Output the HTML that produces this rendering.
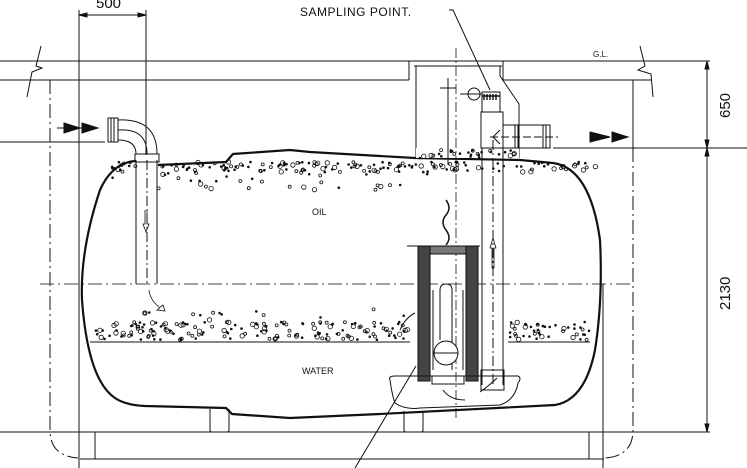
<!DOCTYPE html>
<html><head><meta charset="utf-8"><style>
html,body{margin:0;padding:0;background:#fff;}
svg{display:block;}
text{font-family:"Liberation Sans",sans-serif;fill:#111;}
</style></head><body>
<svg id="s" width="747" height="468" viewBox="0 0 747 468" xmlns="http://www.w3.org/2000/svg" fill="none" stroke="#111" stroke-width="1">
<text x="96" y="8" font-size="15" stroke="none">500</text>
<line x1="79" y1="10" x2="79" y2="468"/>
<line x1="146" y1="10" x2="146" y2="155"/>
<line x1="79" y1="15" x2="146" y2="15"/>
<path d="M79 15 l8 -2 v4z M146 15 l-8 -2 v4z" fill="#111"/>
<line x1="0" y1="61" x2="710" y2="61"/>
<line x1="0" y1="80" x2="409" y2="80"/>
<line x1="503" y1="80" x2="652" y2="80"/>
<path d="M41 46 L36 66 L42 68 L32 72 L27 97"/>
<path d="M640 46 L645 66 L638 70 L651 74 L653 97"/>
<text x="593" y="57" font-size="8" stroke="none">G.L.</text>
<path d="M50 80 V430 Q50 456 78 458" stroke-dasharray="14,4,2,4"/>
<line x1="633" y1="80" x2="633" y2="148"/>
<path d="M633 148 V430 Q633 456 605 458" stroke-dasharray="14,4,2,4"/>
<line x1="40" y1="284" x2="633" y2="284" stroke-dasharray="14,4,2,4" stroke="#444"/>
<line x1="0" y1="432" x2="710" y2="432"/>
<line x1="80" y1="459" x2="604" y2="459"/>
<line x1="95" y1="432" x2="95" y2="459"/>
<line x1="589" y1="432" x2="589" y2="459"/>
<line x1="603" y1="284" x2="603" y2="468"/>
<line x1="707" y1="61" x2="707" y2="432"/>
<line x1="553" y1="148" x2="747" y2="148"/>
<path d="M707 61 l-2 8 h4z M707 148 l-2 -8 h4z M707 148 l-2 8 h4z M707 432 l-2 -8 h4z" fill="#111"/>
<text transform="translate(730,118) rotate(-90)" font-size="15" stroke="none">650</text>
<text transform="translate(730,310) rotate(-90)" font-size="15" stroke="none">2130</text>
<path d="M135 161 Q112 163 100 190 Q80 250 82 300 Q88 380 115 398 Q125 405 145 406 L226 408 L232 414 L290 418 L380 414 L555 405 Q585 400 595 350 Q603 300 600 240 Q590 168 553 163 L520 160 L415 158 L310 152 L290 150 L233 154 L226 162 L158 165" stroke-width="2.2"/>
<path d="M210 409 V430 Q210 432 212 432 H227 Q229 432 229 430 V409"/>
<path d="M404 411 V430 Q404 432 406 432 H421 Q423 432 423 430 V411"/>
<line x1="90" y1="342" x2="410" y2="342"/>
<line x1="508" y1="342" x2="590" y2="342"/>
<path d="M136 160 V284 M157 160 V284"/>
<line x1="147" y1="160" x2="147" y2="284" stroke-dasharray="10,3,2,3"/>
<rect x="135" y="154" width="24" height="8"/>
<path d="M118 120 Q157 118 157 154 M118 140 Q136 140 136 154 M118 130 Q147 128 147 154"/>
<rect x="108" y="118" width="10" height="24"/>
<line x1="111" y1="118" x2="111" y2="142"/><line x1="114" y1="118" x2="114" y2="142"/>
<line x1="0" y1="142" x2="105" y2="142"/>
<line x1="57" y1="128" x2="98" y2="128"/>
<path d="M64 123 L80 128 L64 133z M82 123 L98 128 L82 133z" fill="#111"/>
<path d="M145 210 v14 l-2 0 l3 8 l3 -8 l-2 0 v-14" stroke-width="0.8"/>
<path d="M149 290 Q150 300 160 308 l-3 2 l8 1 l-2 -6 l-3 2" stroke-width="0.8"/>
<path d="M409 61 V80 M503 61 V80"/>
<path d="M416 66 V158 M500 66 V76 L519 104 V158 M414 66 H502"/>
<rect x="416" y="148" width="103" height="10" stroke="none" fill="#fff"/>
<line x1="456" y1="48" x2="456" y2="420" stroke-dasharray="10,3,2,3" stroke-width="0.8"/>
<line x1="448" y1="78" x2="448" y2="165"/>
<line x1="440" y1="88" x2="456" y2="88"/>
<circle cx="474" cy="94" r="6"/>
<line x1="460" y1="94" x2="484" y2="94"/>
<rect x="482" y="92" width="18" height="20" fill="#fff"/>
<path d="M482 96 H500 M484 94 V100 M487 94 V100 M490 94 V100 M493 94 V100 M496 94 V100" stroke-width="1.4"/>
<rect x="481" y="112" width="22" height="36"/>
<path d="M482 148 V385 M503 148 V385"/>
<line x1="493" y1="140" x2="493" y2="385" stroke-dasharray="10,3,2,3"/>
<path d="M503 125 H515 V148 H503 M515 125 H550 V148 H515 M543 125 V148 M546 125 V148 M518 125 V148"/>
<line x1="490" y1="137" x2="558" y2="137" stroke-dasharray="8,3"/>
<path d="M500 130 L493 137 L500 144"/>
<line x1="553" y1="148" x2="603" y2="148"/>
<path d="M590 132 L610 137 L590 142z M612 132 L628 137 L612 142z" fill="#111"/>
<path d="M493 238 l-3 10 h2 v20 h2 v-20 h2z" stroke-width="0.8"/>
<text x="300" y="16" font-size="12" stroke="none" letter-spacing="0.5">SAMPLING POINT.</text>
<path d="M449 10 H453 L490 90"/>
<path d="M446 200 Q452 208 446 215 Q440 222 446 230 Q452 238 446 245" stroke-width="1.5"/>
<rect x="418" y="246" width="12" height="135" fill="#444"/>
<rect x="466" y="246" width="12" height="135" fill="#444"/>
<rect x="430" y="246" width="36" height="8" fill="#777"/>
<line x1="407" y1="246" x2="480" y2="246"/>
<path d="M433 290 V370 M463 290 V370"/>
<path d="M440 290 Q440 284 446 284 Q452 284 452 290 V370 M440 290 V340"/>
<circle cx="446" cy="353" r="12" fill="#fff"/>
<line x1="434" y1="353" x2="458" y2="353"/>
<rect x="432" y="376" width="32" height="8"/>
<rect x="481" y="370" width="23" height="20"/>
<path d="M390 380 Q388 376 395 376 H518 Q522 378 518 383 Q515 400 500 405 L420 408 Q405 410 395 403 Q392 395 390 380z"/>
<path d="M443 390 Q450 400 465 400" stroke-width="1"/>
<path d="M480 392 Q490 385 497 378" stroke-width="1"/>
<path d="M400 330 Q405 318 415 313" stroke-width="1"/>
<line x1="355" y1="468" x2="416" y2="366"/>
<text x="312" y="215" font-size="9" stroke="none">OIL</text>
<text x="302" y="374" font-size="9" stroke="none">WATER</text>
<g id="dots" stroke-width="0.8"></g>
</svg>
<script>
(function(){
var g=document.getElementById('dots');var s=7;
function r(){s=(s*9301+49297)%233280;return s/233280;}
function add(x,y,rad,fill){var c=document.createElementNS('http://www.w3.org/2000/svg','circle');c.setAttribute('cx',x.toFixed(1));c.setAttribute('cy',y.toFixed(1));c.setAttribute('r',rad);if(fill)c.setAttribute('fill','#111');g.appendChild(c);}
function band(x0,x1,y0,y1,n,skip){for(var i=0;i<n;i++){var x=x0+r()*(x1-x0),y=y0+r()*(y1-y0);if(skip&&x>skip[0]&&x<skip[1])continue;var k=r();if(k<0.5)add(x,y,0.9,true);else add(x,y,k<0.8?1.5:2.2,false);}}
band(112,600,162,172,170,[136,158]);
band(112,430,172,190,40,[136,158]);
band(95,410,322,340,170);
band(510,590,322,340,45);
band(110,410,308,320,14);
band(418,518,150,158,30);
})();
</script>
</body></html>
